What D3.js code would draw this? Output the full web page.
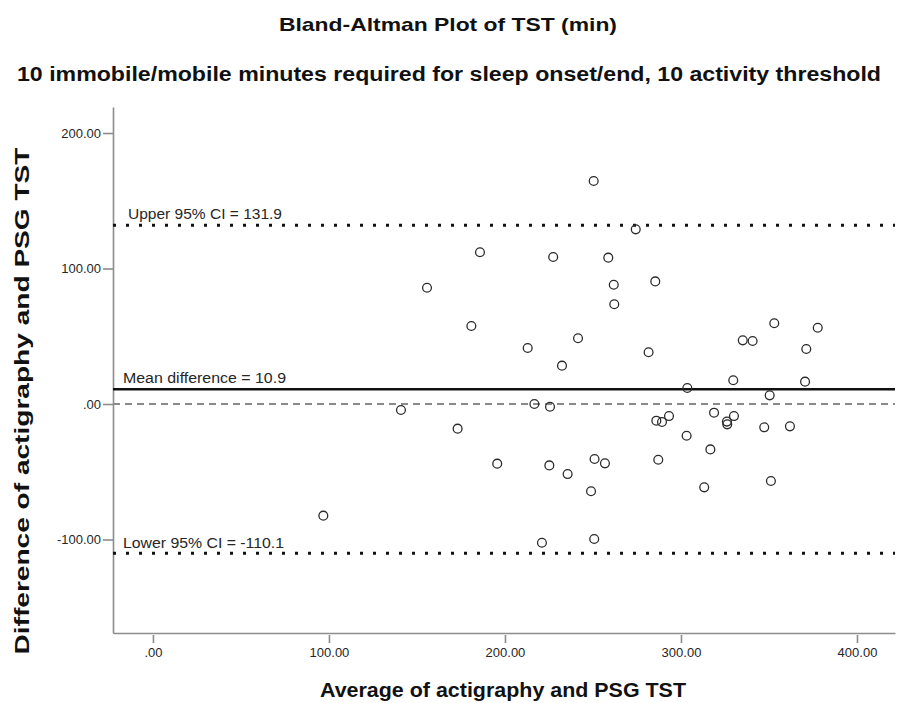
<!DOCTYPE html>
<html>
<head>
<meta charset="utf-8">
<title>Bland-Altman Plot of TST (min)</title>
<script src="https://cdn.jsdelivr.net/npm/d3@7"></script>
<style>
    html, body { margin: 0; padding: 0; background: #ffffff; }
    svg { display: block; font-family: "Liberation Sans", Arial, sans-serif; }
    .axis-text { font-size: 13px; fill: #262626; }
    .title-text {
        font-family: "Liberation Sans Narrow", "Arial Narrow", "Liberation Sans", Arial, sans-serif;
        font-weight: bold;
        fill: #111111;
    }
</style>
</head>
<body>
<svg id="chart" width="897" height="703"></svg>
<script>
// --- Data ---
const avgValues = [
    96.8, 140.9, 155.7, 173.1, 180.9, 185.8, 195.6, 212.9, 216.7, 221.0,
    225.2, 225.6, 227.4, 232.4, 235.6, 241.5, 248.9, 250.4, 250.9, 250.7,
    256.8, 258.7, 261.8, 262.1, 274.3, 281.6, 285.4, 286.0, 287.1, 289.2,
    293.2, 303.2, 303.6, 313.2, 316.7, 318.8, 326.1, 326.3, 329.7, 330.1,
    335.1, 340.7, 347.3, 350.4, 351.1, 353.0, 361.9, 370.5, 371.2, 377.7
];
const diffValues = [
    -82.4, -4.4, 85.8, -18.2, 57.6, 112.0, -44.0, 41.3, 0.0, -102.4,
    -45.3, -2.0, 108.5, 28.3, -51.7, 48.5, -64.4, 164.6, -40.6, -99.6,
    -43.8, 108.0, 88.0, 73.6, 128.9, 38.2, 90.5, -12.3, -41.1, -13.3,
    -8.9, -23.4, 11.8, -61.5, -33.5, -6.4, -13.0, -15.0, 17.5, -8.9,
    47.0, 46.5, -17.2, 6.4, -56.8, 59.6, -16.5, 16.5, 40.6, 56.3
];
const meanDiff = 10.9;
const upperLoA = 131.9;
const lowerLoA = -110.1;
const xTicks = [0, 100, 200, 300, 400];
const yTicks = [-100, 0, 100, 200];

document.addEventListener("DOMContentLoaded", () => {
    const svg = d3.select("#chart");
    const margin = { top: 107, right: 2, bottom: 70, left: 113 };
    const width = 897 - margin.left - margin.right;
    const height = 703 - margin.top - margin.bottom;

    const x = d3.scaleLinear().domain([-22.7, 421.6]).range([0, width]);
    const y = d3.scaleLinear().domain([-169, 219.2]).range([height, 0]);

    const fmt = (d) => (d === 0 ? ".00" : d.toFixed(2));

    // --- Titles ---
    svg.append("text")
        .attr("class", "title-text")
        .attr("x", 448).attr("y", 31)
        .attr("text-anchor", "middle")
        .style("font-size", "19px")
        .attr("textLength", 338).attr("lengthAdjust", "spacingAndGlyphs")
        .text("Bland-Altman Plot of TST (min)");

    svg.append("text")
        .attr("class", "title-text")
        .attr("x", 449).attr("y", 81)
        .attr("text-anchor", "middle")
        .style("font-size", "20px")
        .attr("textLength", 864).attr("lengthAdjust", "spacingAndGlyphs")
        .text("10 immobile/mobile minutes required for sleep onset/end, 10 activity threshold");

    const g = svg.append("g")
        .attr("transform", `translate(${margin.left},${margin.top})`);

    // --- Axes ---
    const xAxis = g.append("g")
        .attr("transform", `translate(0,${height})`)
        .call(d3.axisBottom(x).tickValues(xTicks).tickFormat(fmt)
            .tickSizeOuter(0).tickSizeInner(10).tickPadding(5));

    const yAxis = g.append("g")
        .call(d3.axisLeft(y).tickValues(yTicks).tickFormat(fmt)
            .tickSizeOuter(0).tickSizeInner(10).tickPadding(2));

    [xAxis, yAxis].forEach((ax) => {
        ax.select(".domain").attr("stroke", "#8c8c8c").attr("stroke-width", 1.6);
        ax.selectAll(".tick line").attr("stroke", "#8c8c8c").attr("stroke-width", 1.6);
        ax.selectAll("text")
            .attr("class", "axis-text")
            .attr("fill", null)
            .style("font-family", "'Liberation Sans', Arial, sans-serif");
    });
    // x tick marks sit slightly below the axis line
    xAxis.selectAll(".tick line").attr("y1", 2);

    // --- Reference lines ---
    const refLines = [
        { v: 0, color: "#8a8a8a", w: 2, dash: "7,5" },
        { v: meanDiff, color: "#111111", w: 2.6, dash: null },
        { v: upperLoA, color: "#111111", w: 3, dash: "3,10" },
        { v: lowerLoA, color: "#111111", w: 3, dash: "3,10" },
    ];
    g.selectAll(".ref-line")
        .data(refLines)
        .enter()
        .append("line")
        .attr("class", "ref-line")
        .attr("x1", 0)
        .attr("x2", width)
        .attr("y1", (d) => y(d.v))
        .attr("y2", (d) => y(d.v))
        .attr("stroke", (d) => d.color)
        .attr("stroke-width", (d) => d.w)
        .attr("stroke-dasharray", (d) => d.dash);

    const refLabels = [
        { v: upperLoA, dx: 15, dy: -6, len: 154, text: `Upper 95% CI = ${upperLoA}` },
        { v: meanDiff, dx: 10, dy: -6, len: 163, text: `Mean difference = ${meanDiff}` },
        { v: lowerLoA, dx: 10, dy: -5, len: 161, text: `Lower 95% CI = ${lowerLoA}` },
    ];
    g.selectAll(".ref-label")
        .data(refLabels)
        .enter()
        .append("text")
        .attr("class", "ref-label axis-text")
        .style("font-size", "15.5px")
        .attr("x", (d) => d.dx)
        .attr("y", (d) => y(d.v) + d.dy)
        .attr("textLength", (d) => d.len)
        .attr("lengthAdjust", "spacingAndGlyphs")
        .text((d) => d.text);

    // --- Points ---
    const points = avgValues.map((a, i) => ({ avg: a, diff: diffValues[i] }));
    g.selectAll(".pt")
        .data(points)
        .enter()
        .append("circle")
        .attr("class", "pt")
        .attr("cx", (d) => x(d.avg))
        .attr("cy", (d) => y(d.diff))
        .attr("r", 4.4)
        .attr("fill", "none")
        .attr("stroke", "#2b2b2b")
        .attr("stroke-width", 1.3);

    // --- Axis titles ---
    svg.append("text")
        .attr("class", "title-text")
        .attr("x", 503).attr("y", 697)
        .attr("text-anchor", "middle")
        .style("font-size", "20px")
        .attr("textLength", 366).attr("lengthAdjust", "spacingAndGlyphs")
        .text("Average of actigraphy and PSG TST");

    svg.append("text")
        .attr("class", "title-text")
        .attr("transform", "translate(29,401) rotate(-90)")
        .attr("text-anchor", "middle")
        .style("font-size", "20px")
        .attr("textLength", 507).attr("lengthAdjust", "spacingAndGlyphs")
        .text("Difference of actigraphy and PSG TST");
});
</script>
</body>
</html>
